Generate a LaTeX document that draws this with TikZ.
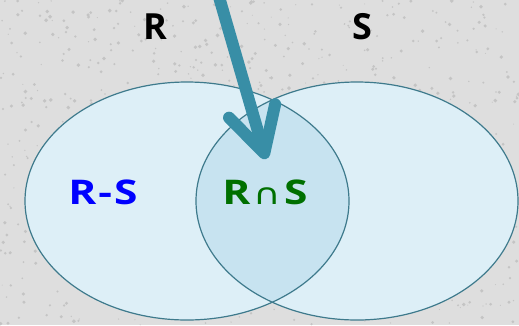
\documentclass[tikz,border=0pt]{standalone}
\usepackage{fontspec}
\setmainfont{Open Sans}
\newfontfamily\labelfont[FakeStretch=1.25, LetterSpace=6]{Open Sans}
\newfontfamily\capsymfont[FakeStretch=1.3]{DejaVu Sans}
\usetikzlibrary{arrows.meta}
\definecolor{paper}{RGB}{222,222,222}
\definecolor{speck}{RGB}{196,196,196}
\definecolor{setfill}{RGB}{221,239,247}
\definecolor{lensfill}{RGB}{199,227,240}
\definecolor{setline}{RGB}{62,122,140}
\definecolor{pointer}{RGB}{56,142,166}
\definecolor{diffblue}{RGB}{0,0,255}
\definecolor{capgreen}{RGB}{0,112,0}

\tikzset{
  setname/.style={anchor=base, font=\fontsize{36}{40}\selectfont\bfseries, text=black},
  region/.style={anchor=base, font=\labelfont\fontsize{34}{38}\selectfont\bfseries},
  setedge/.style={draw=setline, line width=1.2pt},
  pointerarrow/.style={draw=pointer, line width=12pt,
    -{Straight Barb[round, length=44pt, width=48pt]}}
}

\begin{document}
\begin{tikzpicture}[x=1pt, y=-1pt]
  % Hintergrund
  \useasboundingbox (0,0) rectangle (519,325);
  \fill[paper] (0,0) rectangle (519,325);
  \pgfmathsetseed{11}
  \foreach \i in {1,...,900}
    \fill[speck] (rnd*519, rnd*325) circle (0.5+rnd*1.5);

  % Mengen R und S
  \fill[setfill] (187,201) ellipse [x radius=162, y radius=119];
  \fill[setfill] (357,201) ellipse [x radius=161, y radius=119];
  \begin{scope}
    \clip (187,201) ellipse [x radius=162, y radius=119];
    \fill[lensfill] (357,201) ellipse [x radius=161, y radius=119];
  \end{scope}
  \draw[setedge] (187,201) ellipse [x radius=162, y radius=119];
  \draw[setedge] (357,201) ellipse [x radius=161, y radius=119];

  % Beschriftungen
  \node[setname] (r) at (155,39) {R};
  \node[setname] (s) at (362,39) {S};
  \node[region, text=diffblue] (rminuss) at (103,204) {R-S};
  \node[region, text=capgreen] (rcaps) at (265,204)
    {R\kern3pt{\capsymfont\mdseries\fontsize{29}{32}\selectfont ∩}\kern3pt S};

  % Pfeil
  \coordinate (arrowstart) at (217,-10);
  \coordinate (arrowtip) at (266,159);
  \draw[pointerarrow] (arrowstart) -- (arrowtip);
\end{tikzpicture}
\end{document}
